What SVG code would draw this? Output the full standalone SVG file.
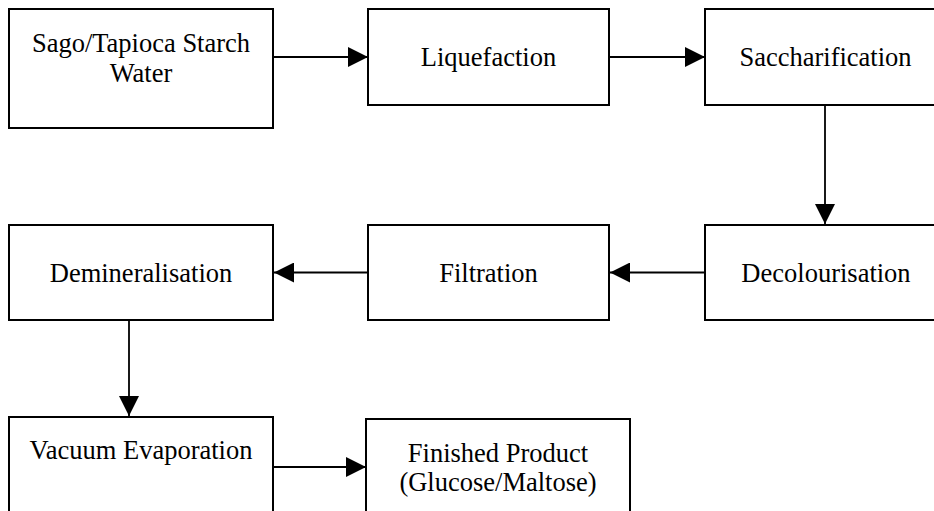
<svg xmlns="http://www.w3.org/2000/svg" width="934" height="511" viewBox="0 0 934 511">
<style>
.box{fill:#fff;stroke:#000;stroke-width:2}
.lbl{font-family:'Liberation Serif','DejaVu Serif',serif;font-size:26.5px;fill:#000;text-anchor:middle}
.con{stroke:#000;stroke-width:1.8;fill:none;marker-end:url(#ah)}
</style>
<defs>
<marker id="ah" markerUnits="userSpaceOnUse" markerWidth="20" markerHeight="20" refX="20" refY="10" orient="auto" viewBox="0 0 20 20">
<path d="M0,0 L20,10 L0,20 z" fill="#000"/>
</marker>
</defs>
<rect width="934" height="511" fill="#fff"/>
<g id="connectors">
<line class="con" x1="273" y1="57" x2="368" y2="57"/>
<line class="con" x1="609" y1="57" x2="705" y2="57"/>
<line class="con" x1="825" y1="105" x2="825" y2="224"/>
<line class="con" x1="705" y1="272.5" x2="610" y2="272.5"/>
<line class="con" x1="369" y1="272.5" x2="274" y2="272.5"/>
<line class="con" x1="129" y1="320" x2="129" y2="416"/>
<line class="con" x1="269" y1="467" x2="366" y2="467"/>
</g>
<g id="n-sago">
<rect class="box" x="9" y="9" width="264" height="119"/>
<text class="lbl" x="141" y="52" font-family="Liberation Serif">Sago/Tapioca Starch</text>
<text class="lbl" x="141" y="82" font-family="Liberation Serif">Water</text>
</g>
<g id="n-liquefaction">
<rect class="box" x="368" y="9" width="241" height="96"/>
<text class="lbl" x="488.5" y="66">Liquefaction</text>
</g>
<g id="n-saccharification">
<rect class="box" x="705" y="9" width="241" height="96"/>
<text class="lbl" x="825.5" y="66">Saccharification</text>
</g>
<g id="n-decolourisation">
<rect class="box" x="705" y="225" width="241" height="95"/>
<text class="lbl" x="826" y="282">Decolourisation</text>
</g>
<g id="n-filtration">
<rect class="box" x="368" y="225" width="241" height="95"/>
<text class="lbl" x="488.5" y="282">Filtration</text>
</g>
<g id="n-demineralisation">
<rect class="box" x="9" y="225" width="264" height="95"/>
<text class="lbl" x="141" y="282">Demineralisation</text>
</g>
<g id="n-vacuum">
<rect class="box" x="9" y="417" width="264" height="110"/>
<text class="lbl" x="141" y="459">Vacuum Evaporation</text>
</g>
<g id="n-finished">
<rect class="box" x="366" y="419" width="264" height="110"/>
<text class="lbl" x="498" y="462">Finished Product</text>
<text class="lbl" x="498" y="491">(Glucose/Maltose)</text>
</g>
</svg>
